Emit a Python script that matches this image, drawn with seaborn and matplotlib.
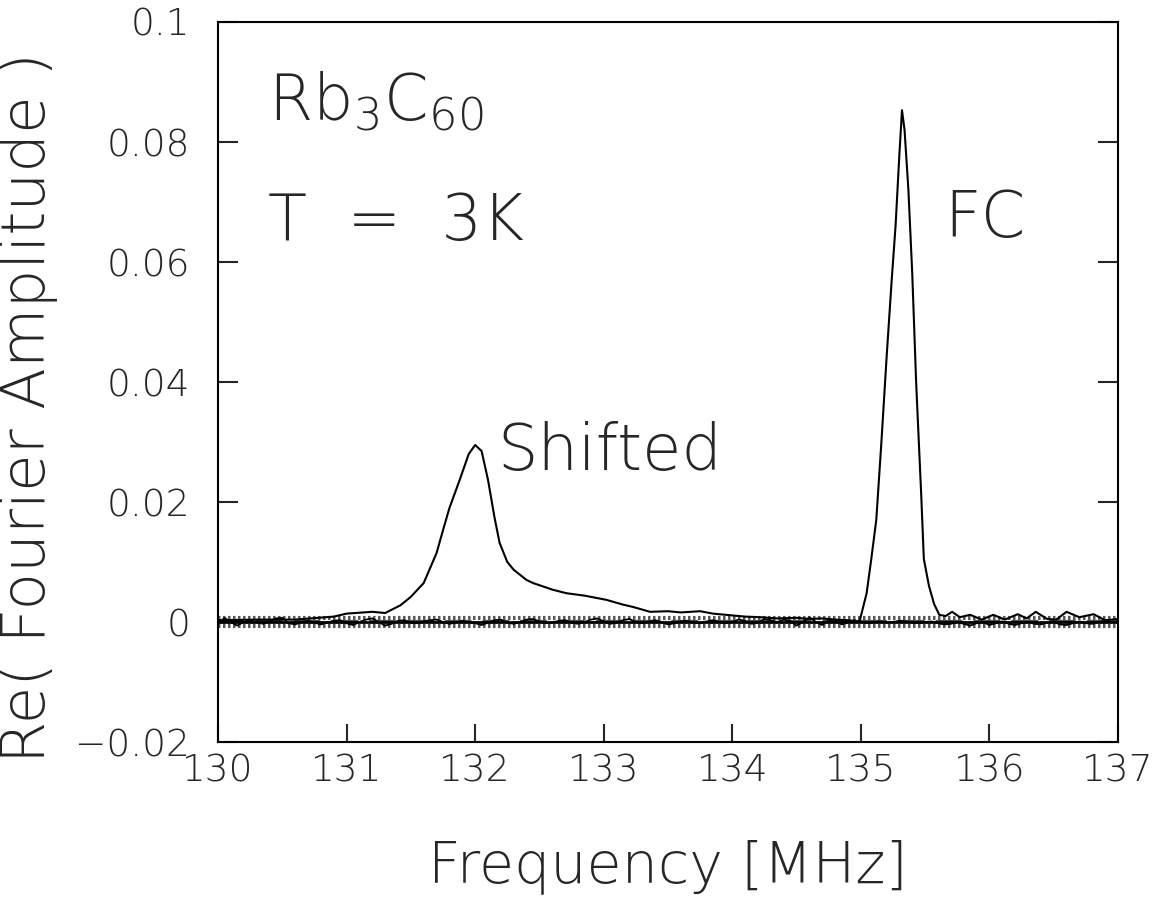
import numpy as np
import pandas as pd
import matplotlib
matplotlib.use("Agg")
import matplotlib.pyplot as plt
import seaborn as sns

#%% data (amplitudes in units of 1e-3)
sig_freq = [130.0, 130.3, 130.6, 130.9, 131.0, 131.2, 131.3, 131.42, 131.5, 131.6,
            131.7, 131.75, 131.8, 131.88, 131.95, 132.0, 132.05, 132.1, 132.15, 132.19,
            132.25, 132.3, 132.4, 132.45, 132.6, 132.71, 132.85, 133.02, 133.15, 133.23,
            133.36, 133.5, 133.6, 133.75, 133.85, 134.0, 134.1, 134.22, 134.35, 134.5,
            134.6, 134.7, 134.8, 134.9, 134.99, 135.045, 135.08, 135.12, 135.16, 135.2,
            135.24, 135.27, 135.3, 135.32, 135.34, 135.37, 135.4, 135.43, 135.47, 135.49,
            135.53, 135.57, 135.61, 135.66, 135.71, 135.77, 135.85, 135.94, 136.03, 136.12,
            136.22, 136.29, 136.36, 136.45, 136.52, 136.6, 136.7, 136.81, 136.9, 137.0]
sig_amp = [0.3, 0.4, 0.4, 0.9, 1.4, 1.7, 1.5, 2.8, 4.2, 6.5,
           11.5, 15.3, 19.0, 23.7, 28.0, 29.5, 28.5, 23.7, 17.5, 13.2,
           10.0, 8.7, 7.0, 6.5, 5.4, 4.8, 4.4, 3.7, 2.9, 2.5,
           1.7, 1.8, 1.6, 1.8, 1.4, 1.1, 0.9, 0.8, 0.6, 0.7,
           0.5, 0.6, 0.4, 0.3, 0.1, 4.8, 10.3, 17.0, 30.0, 44.0,
           57.0, 66.0, 78.0, 85.3, 82.0, 72.0, 58.0, 40.0, 21.0, 10.5,
           6.0, 3.0, 1.2, 1.0, 1.7, 0.8, 1.2, 0.4, 1.2, 0.4,
           1.3, 0.6, 1.7, 0.5, 0.4, 1.7, 0.8, 1.3, 0.3, 0.5]

# second trace (noise around zero), 130.00 ... 137.00 in 0.05 MHz steps
noise_freq = [round(130 + 0.05 * i, 2) for i in range(141)]
noise_amp = [-0.3, 0.7, 0.0, -0.6, 0.0, 0.3, 0.0, -0.3, 0.1, 0.6,
             0.7, -0.2, -0.4, 0.0, 0.2, -0.1, -0.4, -0.1, 0.2, 0.3,
             -0.2, -0.5, 0.0, 0.4, 0.6, 0.0, -0.6, -0.3, 0.2, 0.3,
             -0.1, -0.2, 0.1, 0.3, 0.4, 0.0, -0.3, -0.1, 0.2, 0.0,
             -0.2, -0.5, -0.1, 0.3, 0.4, -0.1, -0.3, 0.0, 0.4, 0.5,
             0.1, -0.2, -0.1, 0.2, 0.3, -0.1, -0.3, 0.0, 0.4, 0.6,
             0.1, -0.3, -0.1, 0.3, 0.5, 0.0, -0.2, 0.1, 0.3, 0.0,
             -0.4, -0.2, 0.1, 0.2, -0.1, -0.2, 0.1, 0.3, 0.0, -0.2,
             0.0, 0.4, 0.2, -0.3, -0.1, 0.5, 0.3, 0.0, 0.4, 0.2,
             -0.6, 0.0, 0.8, 0.0, -0.5, 0.3, 0.4, -0.4, -0.1, 0.3,
             0.0, -0.2, 0.0, 0.1, -0.1, 0.0, 0.2, 0.1, -0.1, -0.2,
             0.0, 0.1, -0.2, -0.4, -0.3, 0.0, -0.3, -0.6, -0.2, 0.0,
             -0.5, -0.2, 0.1, -0.3, -0.5, -0.2, 0.0, -0.3, -0.4, -0.1,
             0.0, -0.4, -0.5, -0.2, 0.1, -0.2, -0.3, 0.0, 0.2, 0.0,
             0.2]

band_levels = [0.6, -0.6]   # dotted error band, 1e-3
x_ticks = [130, 131, 132, 133, 134, 135, 136, 137]
y_ticks = [-0.02, 0, 0.02, 0.04, 0.06, 0.08, 0.1]
y_ticklabels = ["\u22120.02", "0", "0.02", "0.04", "0.06", "0.08", "0.1"]

sig = pd.DataFrame({"freq": sig_freq, "amp": np.array(sig_amp) * 1e-3})
noise = pd.DataFrame({"freq": noise_freq, "amp": np.array(noise_amp) * 1e-3})

#%% plot
sns.set_style("ticks")
plt.rcParams["font.family"] = ["DejaVu Sans"]
plt.rcParams["font.weight"] = 200
plt.rcParams["axes.labelweight"] = 200

fig = plt.figure(figsize=(11.56, 9.09), dpi=100)
ax = fig.add_axes([0.1886, 0.1837, 0.7785, 0.7921])

for lv in band_levels:
    ax.axhline(lv * 1e-3, color="0.35", lw=3, ls=(0, (0.6, 0.6)), zorder=1)
ax.axhline(0.0001, color="0.3", lw=1.6, ls=(0, (12, 5)), zorder=1)
ax.axhline(0, color="black", lw=2.0, zorder=2)

sns.lineplot(data=noise, x="freq", y="amp", ax=ax, color="black", lw=1.3, zorder=3)
sns.lineplot(data=sig, x="freq", y="amp", ax=ax, color="black", lw=1.5, zorder=4)

ax.set_xlim(130, 137)
ax.set_ylim(-0.02, 0.1)
ax.set_xticks(x_ticks)
ax.set_xticklabels([str(t) for t in x_ticks])
ax.set_yticks(y_ticks)
ax.set_yticklabels(y_ticklabels)

ax.tick_params(axis="y", which="both", direction="in", left=True, right=True,
               length=14.5, width=1.5, labelsize=27, pad=20)
ax.tick_params(axis="x", which="both", direction="in", bottom=True, top=False,
               length=13, width=1.5, labelsize=27, pad=8)
for s in ax.spines.values():
    s.set_visible(True)
    s.set_linewidth(1.5)
    s.set_color("black")

ax.set_xlabel("Frequency [MHz]", fontsize=41)
ax.set_ylabel("Re( Fourier Amplitude )", fontsize=44)
ax.xaxis.set_label_coords(0.5, -0.135)
ax.yaxis.set_label_coords(-0.178, 0.465)

tkw = dict(fontsize=46, fontweight=200, va="baseline", ha="left")
ax.text(130.39, 0.0837, r"Rb$_\mathregular{3}$C$_\mathregular{60}$", **tkw)
ax.text(130.39, 0.0637, "T  =  3K", **tkw)
ax.text(135.65, 0.0642, "FC", **tkw)
ax.text(132.17, 0.0253, "Shifted", **tkw)

plt.savefig("out.png", dpi=100)
